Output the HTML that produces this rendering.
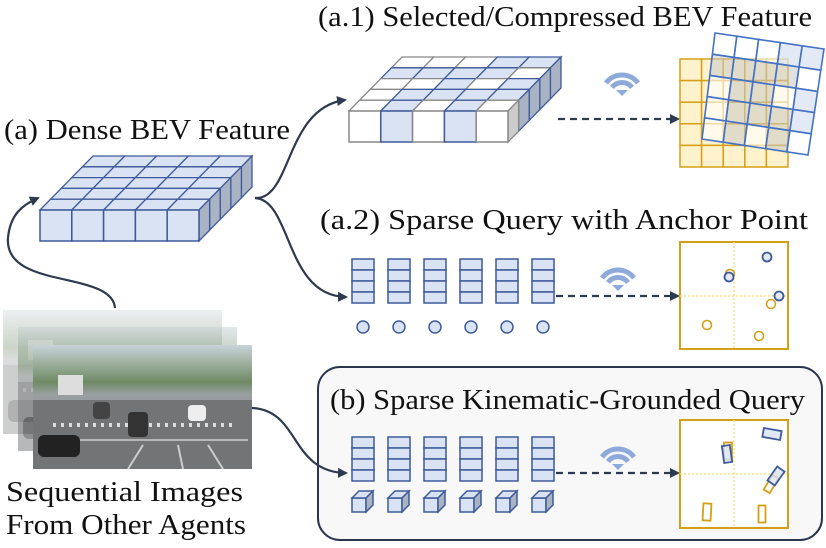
<!DOCTYPE html>
<html><head><meta charset="utf-8"><style>
html,body{margin:0;padding:0;background:#fff;}
svg{display:block;}
text{font-family:"Liberation Serif",serif;fill:#111;}
</style></head><body>
<svg id="s" width="826" height="548" viewBox="0 0 826 548" xmlns="http://www.w3.org/2000/svg">
<defs>
<marker id="ah" markerWidth="10" markerHeight="10" refX="8" refY="5" orient="auto" markerUnits="userSpaceOnUse"><path d="M0,0 L10,5 L0,10 z" fill="#2d3a4f"/></marker>
<linearGradient id="sky" x1="0" y1="0" x2="0" y2="1"><stop offset="0" stop-color="#c9d3d8"/><stop offset="0.3" stop-color="#6f8a64"/><stop offset="0.4" stop-color="#9aa0a2"/><stop offset="1" stop-color="#6c6e70"/></linearGradient>
</defs>
<rect x="318" y="367" width="504" height="173" rx="22" fill="#f8f8f8" stroke="#2a3550" stroke-width="2"/>
<g id="g"></g>
<text x="318" y="26" font-size="29" textLength="494" lengthAdjust="spacingAndGlyphs">(a.1) Selected/Compressed BEV Feature</text>
<text x="4" y="139" font-size="29" textLength="286" lengthAdjust="spacingAndGlyphs">(a) Dense BEV Feature</text>
<text x="320" y="229" font-size="29" textLength="488" lengthAdjust="spacingAndGlyphs">(a.2) Sparse Query with Anchor Point</text>
<text x="330" y="409" font-size="29" textLength="475" lengthAdjust="spacingAndGlyphs">(b) Sparse Kinematic-Grounded Query</text>
<text x="6" y="501" font-size="29" textLength="237" lengthAdjust="spacingAndGlyphs">Sequential Images</text>
<text x="6" y="534" font-size="29" textLength="240" lengthAdjust="spacingAndGlyphs">From Other Agents</text>
</svg>
<script>
var g=document.getElementById('g'),h='';
function P(pts,f,s,w){return '<polygon points="'+pts.map(p=>p[0].toFixed(1)+','+p[1].toFixed(1)).join(' ')+'" fill="'+f+'" stroke="'+s+'" stroke-width="'+(w||1.5)+'"/>';}
var B='#3d5a9a',LB='#dae3f3',SD='#aab3c3';
function slab(x0,y0,cw,ch,dx,dy,fill,sfill,scol){
 var out='';
 for(var r=0;r<5;r++)for(var c=0;c<5;c++){
  var k=4-r; var bx=x0+c*cw+k*dx, by=y0+k*dy;
  var on=fill[r][c];
  out+=P([[bx,by],[bx+cw,by],[bx+cw+dx,by+dy],[bx+dx,by+dy]],on?LB:'#fff',on?B:'#888',1.3);
 }
 for(var k=4;k>=0;k--){var bx=x0+5*cw+k*dx,by=y0+k*dy;
  out+=P([[bx,by],[bx+dx,by+dy],[bx+dx,by+dy+ch],[bx,by+ch]],sfill[k],scol[k],1.3);}
 for(var c=0;c<5;c++){var on=fill[4][c];out+=P([[x0+c*cw,y0],[x0+(c+1)*cw,y0],[x0+(c+1)*cw,y0+ch],[x0+c*cw,y0+ch]],on?LB:'#fff',on?B:'#888',1.5);}
 return out;
}
var all=[[1,1,1,1,1],[1,1,1,1,1],[1,1,1,1,1],[1,1,1,1,1],[1,1,1,1,1]];
h+=slab(40,210,31.8,31,10.6,-10.8,all,[SD,SD,SD,SD,SD],[B,B,B,B,B]);
var sel=[[0,0,0,1,1],[1,1,1,1,0],[0,0,1,0,1],[0,1,1,1,1],[0,1,0,1,0]];
h+=slab(349,111,31.8,31,10.6,-10.8,sel,['#ccc',SD,SD,SD,SD],['#888',B,B,B,B]);
var A='stroke="#2d3a4f" stroke-width="2.2" fill="none" marker-end="url(#ah)"';
h+='<path d="M115,308 C112,270 4,290 8,238 C10,215 22,205 38,198" '+A+'/>';
h+='<path d="M255,198 C292,200 285,108 345,100" '+A+'/>';
h+='<path d="M255,198 C292,200 285,296 346,297" '+A+'/>';
h+='<path d="M252,408 C300,410 290,472 346,473" '+A+'/>';
function img(x,y,o){return '<g opacity="'+o+'"><rect x="'+x+'" y="'+y+'" width="219" height="124" fill="url(#sky)"/><rect x="'+x+'" y="'+(y+55)+'" width="219" height="69" fill="#727476"/>'+
 '<path d="M'+(x+20)+','+(y+80)+' L'+(x+200)+','+(y+80)+'" stroke="#ddd" stroke-width="4" stroke-dasharray="3,5"/>'+
 '<path d="M'+(x+40)+','+(y+95)+' L'+(x+215)+','+(y+95)+'" stroke="#ccc" stroke-width="1.5"/>'+
 '<path d="M'+(x+95)+','+(y+124)+' L'+(x+110)+','+(y+100)+' M'+(x+150)+','+(y+124)+' L'+(x+145)+','+(y+100)+' M'+(x+190)+','+(y+124)+' L'+(x+175)+','+(y+100)+'" stroke="#ccc" stroke-width="2"/>'+
 '<rect x="'+(x+25)+'" y="'+(y+30)+'" width="25" height="20" fill="#ddd"/>'+
 '<rect x="'+(x+5)+'" y="'+(y+90)+'" width="42" height="22" rx="6" fill="#222"/>'+
 '<rect x="'+(x+95)+'" y="'+(y+67)+'" width="20" height="25" rx="4" fill="#333"/>'+
 '<rect x="'+(x+155)+'" y="'+(y+60)+'" width="18" height="16" rx="4" fill="#eee"/>'+
 '<rect x="'+(x+60)+'" y="'+(y+57)+'" width="17" height="17" rx="4" fill="#444"/></g>';}
h+=img(3,310,0.35)+img(18,327,0.5)+img(33,345,1);
function cols(y,cubes){var o='';for(var i=0;i<6;i+=1){var x=352+i*36;
 for(var j=0;j<4;j++)o+='<rect x="'+x+'" y="'+(y+j*11)+'" width="22" height="11" fill="'+LB+'" stroke="'+B+'" stroke-width="1.5"/>';
 if(cubes){var fy=498;o+=P([[x,fy],[x+14,fy],[x+14,fy+14],[x,fy+14]],LB,B,1.5)+P([[x,fy],[x+7,fy-7],[x+21,fy-7],[x+14,fy]],LB,B,1.5)+P([[x+14,fy],[x+21,fy-7],[x+21,fy+7],[x+14,fy+14]],SD,B,1.5);}
 else o+='<circle cx="'+(x+11)+'" cy="327" r="6" fill="'+LB+'" stroke="'+B+'" stroke-width="1.5"/>';}
 return o;}
h+=cols(259,false)+cols(437,true);
function wifi(cx,cy){var o='';[20,12.5].forEach(function(r){
 o+='<path d="M'+(cx-r*0.8)+','+(cy-r*0.6)+' A'+r+','+r+' 0 0 1 '+(cx+r*0.8)+','+(cy-r*0.6)+'" stroke="#8eaadb" stroke-width="5" fill="none"/>';});
 o+='<path d="M'+(cx-6)+','+(cy-5)+' L'+(cx+6)+','+(cy-5)+' L'+cx+','+(cy+1)+' z" fill="#8eaadb"/>';return o;}
var D='stroke="#2d3a4f" stroke-width="2.2" fill="none" stroke-dasharray="7,5" marker-end="url(#ah)"';
h+='<path d="M558,119 L678,119" '+D+'/>'+wifi(622,95);
h+='<path d="M556,296 L678,296" '+D+'/>'+wifi(618,290);
h+='<path d="M556,473 L678,473" '+D+'/>'+wifi(618,469);
var Y='#d4a017';
for(var r=0;r<5;r++)for(var c=0;c<5;c++)h+='<rect x="'+(680+c*21.6)+'" y="'+(59+r*21.6)+'" width="21.6" height="21.6" fill="#fff2cc" stroke="'+Y+'" stroke-width="1.5"/>';
var TL=[715,33],TR=[824,49],BL=[702,139],BR=[808,155];
function L(a,b,t){return[a[0]+(b[0]-a[0])*t,a[1]+(b[1]-a[1])*t];}
function pt(u,v){return L(L(TL,TR,u),L(BL,BR,u),v);}
var gf=[[0,0,0,1,1],[1,1,1,1,0],[0,1,1,0,1],[0,1,1,1,1],[0,1,0,1,0]];
for(var r=0;r<5;r++)for(var c=0;c<5;c++){var f=gf[r][c]?(c>=3&&(r==0||c==4)?'rgba(218,227,243,0.75)':'rgba(200,200,200,0.55)'):'rgba(255,255,255,0.6)';
 h+=P([pt(c/5,r/5),pt((c+1)/5,r/5),pt((c+1)/5,(r+1)/5),pt(c/5,(r+1)/5)],f,'#4472c4',1.6);}
h+='<rect x="680" y="242" width="108" height="107" fill="#fff" stroke="'+Y+'" stroke-width="2"/>';
h+='<path d="M734,242 V349 M680,296 H788" stroke="#ffd966" stroke-width="1.2" stroke-dasharray="2,2"/>';
[[707,325],[759,336],[771,304],[730,274]].forEach(function(p){h+='<circle cx="'+p[0]+'" cy="'+p[1]+'" r="4.5" fill="none" stroke="'+Y+'" stroke-width="1.6"/>';});
[[767,257],[729,277],[779,296]].forEach(function(p){h+='<circle cx="'+p[0]+'" cy="'+p[1]+'" r="4.5" fill="#e5e8ee" stroke="#3d5a9a" stroke-width="1.8"/>';});
h+='<rect x="680" y="420" width="108" height="108" fill="#fff" stroke="'+Y+'" stroke-width="2"/>';
h+='<path d="M734,420 V528 M680,474 H788" stroke="#ffd966" stroke-width="1.2" stroke-dasharray="2,2"/>';
function rb(cx,cy,w,hh,a,col,fill){return '<rect x="'+(cx-w/2)+'" y="'+(cy-hh/2)+'" width="'+w+'" height="'+hh+'" transform="rotate('+a+' '+cx+' '+cy+')" fill="'+fill+'" stroke="'+col+'" stroke-width="1.8"/>';}
h+=rb(707,512,8,17,3,Y,'none')+rb(762,514,7,17,0,Y,'none')+rb(771,484,7,17,30,Y,'none')+rb(728,451,8,17,0,Y,'none');
h+=rb(727,454,8,17,-8,'#3d5a9a','rgba(218,227,243,0.8)')+rb(772,434,18,9,10,'#3d5a9a','rgba(218,227,243,0.8)')+rb(776,476,9,17,35,'#3d5a9a','rgba(218,227,243,0.8)');
g.innerHTML=h;
</script>
</body></html>
